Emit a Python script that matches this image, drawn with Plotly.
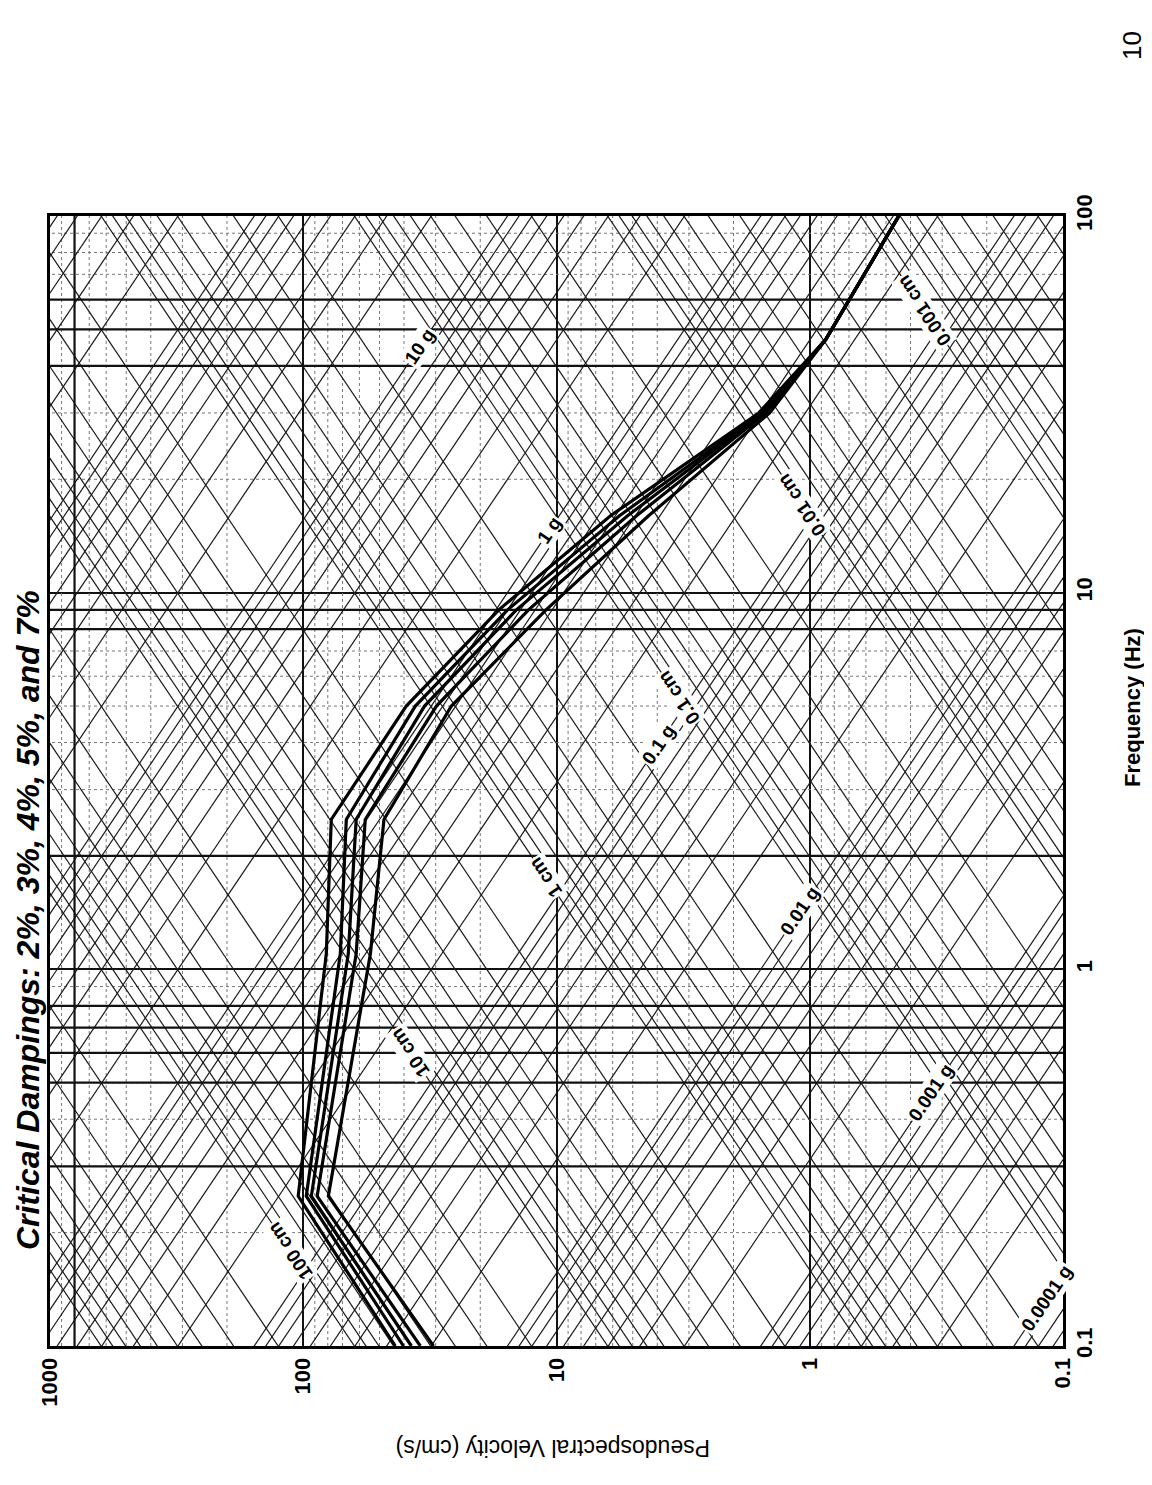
import numpy as np
import plotly.graph_objects as go

# ---------------- data ----------------
freq = [0.1, 0.25, 1.1, 2.5, 5.0, 9.0, 16.0, 30.0, 47.0, 100.0]
psv_2 = [43.3, 104.7, 81.1, 77.5, 39.2, 16.9, 6.12, 1.59, 0.865, 0.445]
psv_3 = [40.2, 97.3, 71.4, 67.6, 36.1, 15.6, 5.64, 1.55, 0.865, 0.445]
psv_4 = [37.4, 92.9, 66.4, 61.8, 33.2, 14.4, 5.24, 1.52, 0.865, 0.445]
psv_5 = [34.5, 88.1, 61.8, 56.9, 29.8, 12.9, 4.83, 1.49, 0.865, 0.445]
psv_7 = [30.6, 79.6, 54.3, 48.0, 26.0, 11.0, 4.33, 1.44, 0.865, 0.445]

vel_ticks = [1000, 100, 10, 1, 0.1]
vel_ticktext = ["1000", "100", "10", "1", "0.1"]
freq_ticks = [0.1, 1, 10, 100]
freq_ticktext = ["0.1", "1", "10", "100"]

# tripartite grid values
disp_decades = [1e-4, 1e-3, 1e-2, 1e-1, 1, 10, 100, 1000]      # cm
acc_decades = [1e-5, 1e-4, 1e-3, 1e-2, 1e-1, 1, 10, 100]        # g
multipliers = [1, 2, 3, 4, 5, 6, 7, 8, 9]
minor_mult = [2, 3, 4, 5, 6, 7, 8, 9]
freq_decades = [0.1, 1, 10]
vel_decades = [0.1, 1, 10, 100]

disp_label_vals = [100, 10, 1, 0.1, 0.01, 0.001]
disp_label_text = ["100 cm", "10 cm", "1 cm", "0.1 cm", "0.01 cm", "0.001 cm"]
disp_label_freq = [0.179, 0.6, 1.75, 5.25, 17.1, 56.0]

acc_label_vals = [10, 1, 0.1, 0.01, 0.001, 0.0001]
acc_label_text = ["10 g", "1 g", "0.1 g", "0.01 g", "0.001 g", "0.0001 g"]
acc_label_freq = [45.0, 14.6, 3.95, 1.43, 0.47, 0.134]

heavy_freqs = [0.3, 0.5, 0.6, 0.7, 0.8, 2, 8, 9, 40, 50, 60]
heavy_vels = [800]

G = 981.0
F_MIN, F_MAX = 0.1, 100.0
V_MIN, V_MAX = 0.1, 1000.0

fig = go.Figure()

# minor orthogonal grid (dotted)
mx, my = [], []
for d in freq_decades:
    for m in minor_mult:
        f = d * m
        mx += [V_MIN, V_MAX, None]; my += [f, f, None]
for d in vel_decades:
    for m in minor_mult:
        v = d * m
        mx += [v, v, None]; my += [F_MIN, F_MAX, None]
fig.add_trace(go.Scatter(x=mx, y=my, mode="lines",
                         line=dict(color="#777", width=1, dash="dot"),
                         hoverinfo="skip", showlegend=False))

# displacement lines (V = 2 pi f D)
dx, dy = [], []
for d in disp_decades:
    for m in multipliers:
        D = d * m
        for f in (F_MIN / 10, F_MAX * 10):
            dx.append(2 * np.pi * f * D)
            dy.append(f)
        dx.append(None); dy.append(None)
fig.add_trace(go.Scatter(x=dx, y=dy, mode="lines",
                         line=dict(color="#1a1a1a", width=1.2),
                         hoverinfo="skip", showlegend=False))

# acceleration lines (V = A g / (2 pi f))
ax_, ay_ = [], []
for a in acc_decades:
    for m in multipliers:
        A = a * m
        for f in (F_MIN / 10, F_MAX * 10):
            ax_.append(A * G / (2 * np.pi * f))
            ay_.append(f)
        ax_.append(None); ay_.append(None)
fig.add_trace(go.Scatter(x=ax_, y=ay_, mode="lines",
                         line=dict(color="#1a1a1a", width=1.2),
                         hoverinfo="skip", showlegend=False))

# heavy constant-frequency / constant-velocity lines
hx, hy = [], []
for f in heavy_freqs:
    hx += [V_MIN, V_MAX, None]; hy += [f, f, None]
for v in heavy_vels:
    hx += [v, v, None]; hy += [F_MIN, F_MAX, None]
fig.add_trace(go.Scatter(x=hx, y=hy, mode="lines",
                         line=dict(color="#111", width=2.2),
                         hoverinfo="skip", showlegend=False))

# damping curves
for name, vals in [("2%", psv_2), ("3%", psv_3), ("4%", psv_4),
                   ("5%", psv_5), ("7%", psv_7)]:
    fig.add_trace(go.Scatter(x=vals, y=freq, mode="lines", name=name,
                             line=dict(color="black", width=3.2),
                             showlegend=False))

ANG_D = -124
ANG_A = -56
annotations = []
for D, t, f in zip(disp_label_vals, disp_label_text, disp_label_freq):
    v = 2 * np.pi * f * D
    annotations.append(dict(x=np.log10(v), y=np.log10(f), xref="x", yref="y",
                            text="<b>%s</b>" % t, showarrow=False,
                            textangle=ANG_D, bgcolor="white",
                            font=dict(family="Liberation Sans", size=19, color="black")))
for A, t, f in zip(acc_label_vals, acc_label_text, acc_label_freq):
    v = A * G / (2 * np.pi * f)
    annotations.append(dict(x=np.log10(v), y=np.log10(f), xref="x", yref="y",
                            text="<b>%s</b>" % t, showarrow=False,
                            textangle=ANG_A, bgcolor="white",
                            font=dict(family="Liberation Sans", size=19, color="black")))

W, H = 1152, 1485
L, R, T, B = 42, 97, 208, 147

free = [
    (20, 912, "<b><i>Critical Dampings: 2%, 3%, 4%, 5%, and 7%</i></b>", -90, 32),
    (1124, 700, "<b>Frequency (Hz)</b>", -90, 22),
    (545, 1440, "Pseudospectral Velocity (cm/s)", 180, 23),
    (1124, 38, "10", -90, 26),
]
for px, py, t, ang, sz in free:
    annotations.append(dict(x=(px - L) / (W - L - R), y=1 - (py - T) / (H - T - B),
                            xref="paper", yref="paper", xanchor="center", yanchor="middle",
                            text=t, showarrow=False, textangle=ang,
                            font=dict(family="Liberation Sans", size=sz, color="black")))

fig.update_layout(
    width=W, height=H,
    margin=dict(l=L, r=R, t=T, b=B),
    paper_bgcolor="white", plot_bgcolor="white",
    annotations=annotations,
    showlegend=False,
)
fig.update_xaxes(type="log", range=[3, -1],
                 tickvals=vel_ticks, ticktext=["<b>%s</b>" % t for t in vel_ticktext],
                 tickangle=-90,
                 tickfont=dict(family="Liberation Sans", size=22, color="black"),
                 showgrid=True, gridcolor="#111", gridwidth=1.8,
                 showline=True, linecolor="black", linewidth=3, mirror=True,
                 ticks="", zeroline=False)
fig.update_yaxes(type="log", range=[-1, 2], side="right",
                 tickvals=freq_ticks, ticktext=["<b>%s</b>" % t for t in freq_ticktext],
                 tickangle=-90,
                 tickfont=dict(family="Liberation Sans", size=22, color="black"),
                 showgrid=True, gridcolor="#111", gridwidth=1.8,
                 showline=True, linecolor="black", linewidth=3, mirror=True,
                 ticks="", zeroline=False)

fig.write_html("out.html")
